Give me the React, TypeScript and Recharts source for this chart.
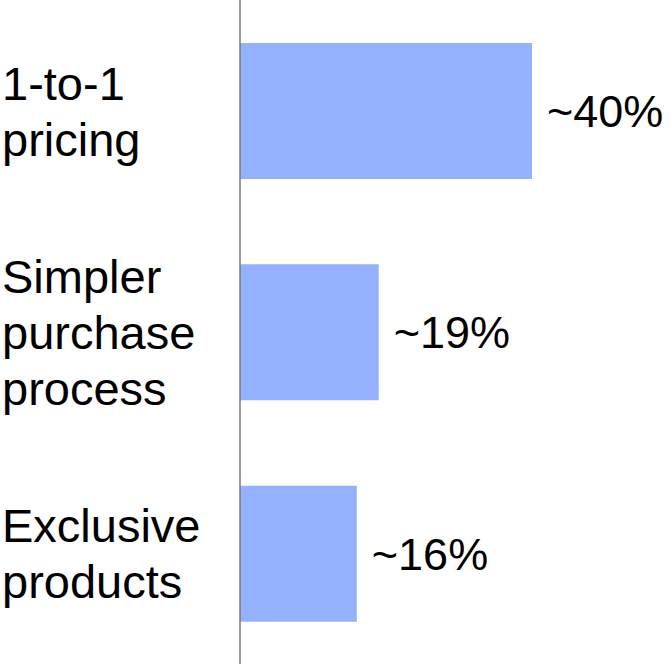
import { BarChart, Bar, XAxis, YAxis, LabelList } from 'recharts';

const categories = ['1-to-1\npricing', 'Simpler\npurchase\nprocess', 'Exclusive\nproducts'];
const shares = [40, 19, 16];

const data = categories.map((c, i) => ({ name: c, share: shares[i] }));

const FONT = '"Liberation Sans", Arial, sans-serif';
const LINE_H = 56;

function CategoryTick(props: any) {
  const { y, payload } = props;
  const lines: string[] = String(payload.value).split('\n');
  const first = y - ((lines.length - 1) * LINE_H) / 2 + 17;
  return (
    <text x={2} y={first} fill="#000" fontSize={47} fontFamily={FONT} textAnchor="start">
      {lines.map((l, i) => (
        <tspan key={i} x={2} y={first + i * LINE_H}>
          {l}
        </tspan>
      ))}
    </text>
  );
}

export default function App() {
  return (
    <div style={{ position: 'absolute', left: 0, top: 0, background: '#fff' }}>
      <BarChart
        width={672}
        height={664}
        data={data}
        layout="vertical"
        margin={{ top: 0, right: 67, left: 0, bottom: 0 }}
      >
        <XAxis type="number" domain={[0, 50]} hide />
        <YAxis
          type="category"
          dataKey="name"
          width={240}
          axisLine={{ stroke: '#7a7a7a', strokeWidth: 1.5 }}
          tickLine={false}
          tick={<CategoryTick />}
          interval={0}
        />
        <Bar dataKey="share" fill="#94b1ff" barSize={136} isAnimationActive={false}>
          <LabelList
            dataKey="share"
            position="right"
            offset={15}
            formatter={(v: any) => `~${v}%`}
            fill="#000"
            fontSize={45}
            fontFamily={FONT}
          />
        </Bar>
      </BarChart>
    </div>
  );
}
